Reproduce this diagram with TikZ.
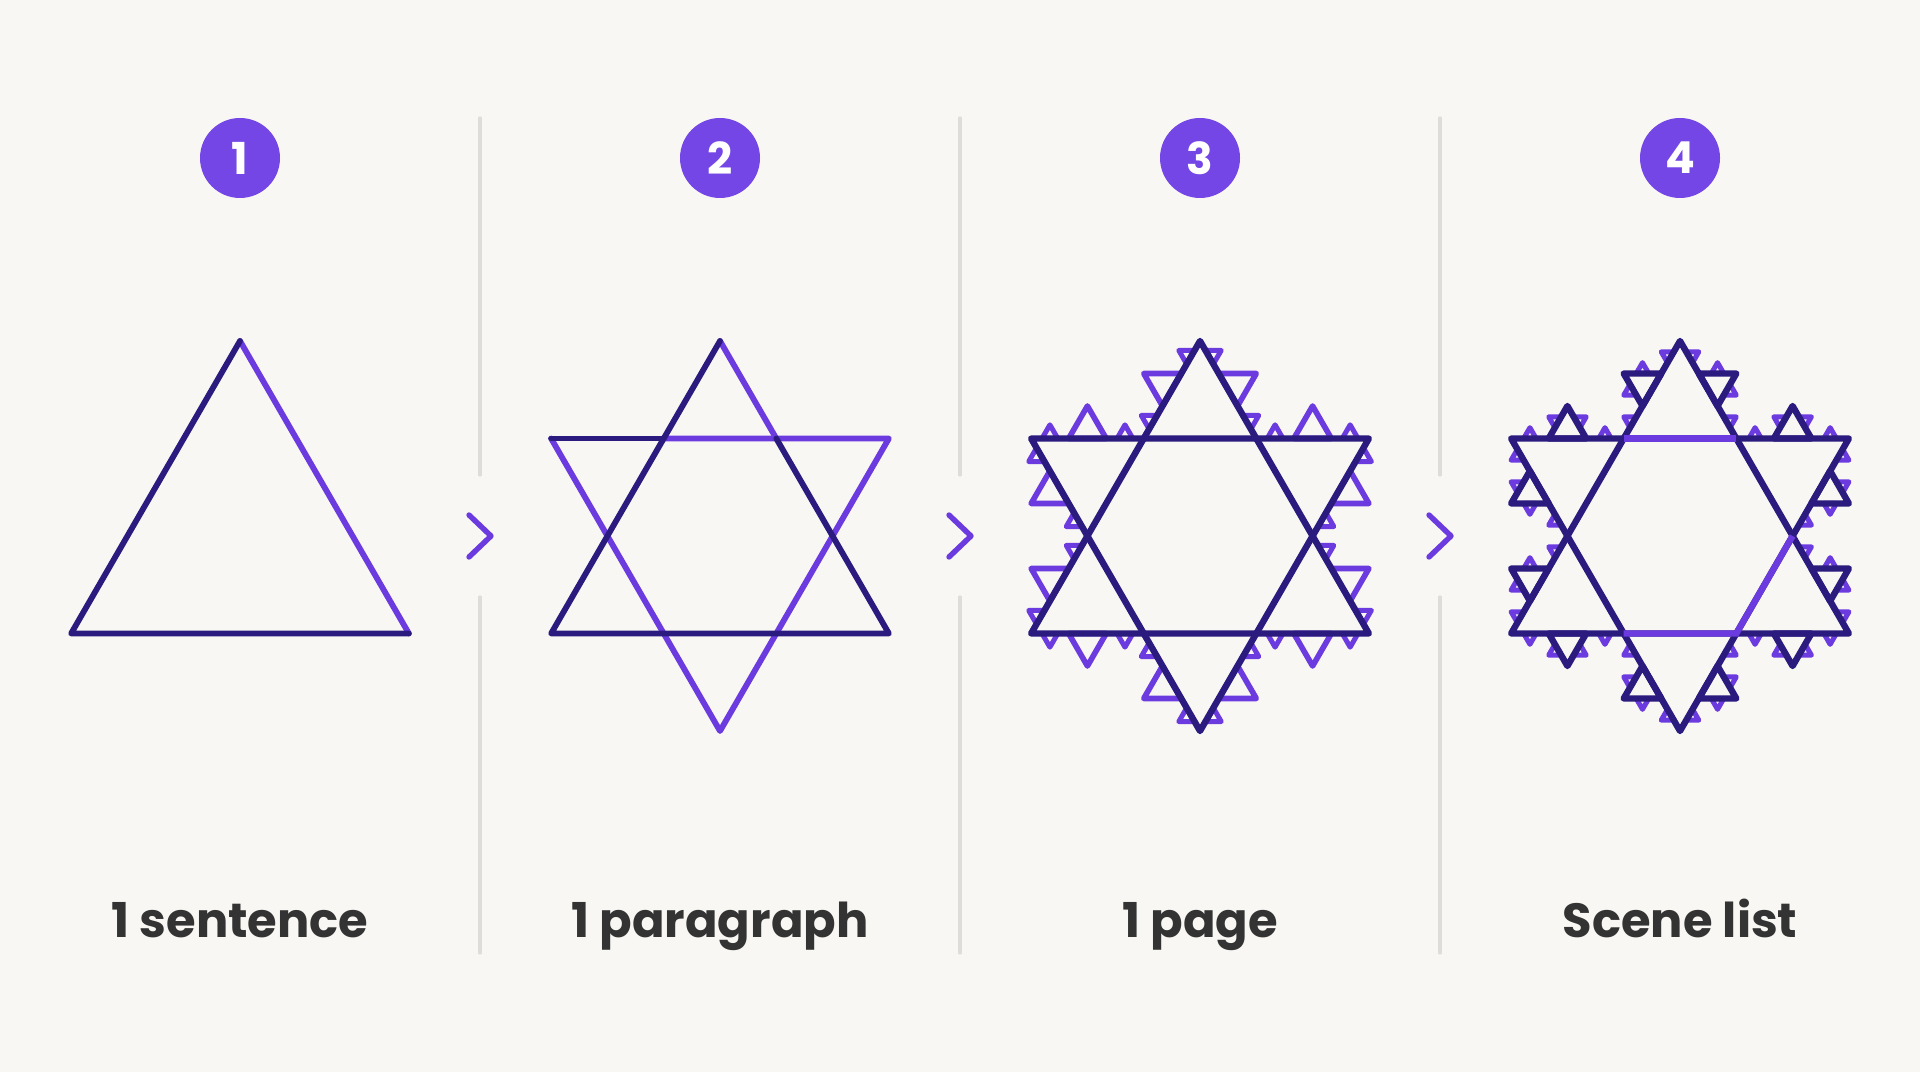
\documentclass[tikz,border=0pt]{standalone}
\usepackage{fontspec}
\setmainfont{Poppins}
\usetikzlibrary{calc}
\definecolor{bgc}{HTML}{F8F7F3}
\definecolor{navy}{HTML}{2B1B7E}
\definecolor{violet}{HTML}{6B3BE0}
\definecolor{badgec}{HTML}{7446E6}
\definecolor{divc}{HTML}{DEDDD9}
\definecolor{labc}{HTML}{333333}
\tikzset{
  mainline/.style={line width=2.9pt, line cap=round, line join=round},
  darkline/.style={mainline, draw=navy},
  liteline/.style={mainline, draw=violet},
  bigdark/.style={line width=3.2pt, draw=navy, line cap=round, line join=round},
  innerlite/.style={line width=3.2pt, draw=violet, line cap=butt},
  bumpthree/.style={line width=2.8pt, draw=violet, line cap=round, line join=round},
  bumpfour/.style={line width=2.5pt, draw=violet, line cap=round, line join=round},
  divider/.style={line width=1.6pt, draw=divc, line cap=round},
  chevron/.style={line width=2.7pt, draw=violet, line cap=round, line join=round},
  badgenode/.style={circle, fill=badgec, minimum size=40pt, inner sep=0pt, text=white,
    font=\bfseries\fontsize{22}{22}\selectfont},
  labelnode/.style={anchor=base, text=labc, font=\bfseries\fontsize{24}{24}\selectfont},
}
% bump triangle on segment (#1,#2)-(#3,#4): base from t=0.5-#6 to 0.5+#6, outward to the right
\newcommand\bumptri[6]{%
  \pgfmathsetmacro\bAx{#1+(0.5-#6)*(#3-#1)}%
  \pgfmathsetmacro\bAy{#2+(0.5-#6)*(#4-#2)}%
  \pgfmathsetmacro\bBx{#1+(0.5+#6)*(#3-#1)}%
  \pgfmathsetmacro\bBy{#2+(0.5+#6)*(#4-#2)}%
  \pgfmathsetmacro\bCx{\bAx+0.5*(\bBx-\bAx)+0.8660254*(\bBy-\bAy)}%
  \pgfmathsetmacro\bCy{\bAy-0.8660254*(\bBx-\bAx)+0.5*(\bBy-\bAy)}%
  \draw[#5] (\bAx,\bAy) -- (\bCx,\bCy) -- (\bBx,\bBy) -- cycle;
}
\newcommand\kochedge[5]{%
  \begingroup
  \pgfmathsetmacro\eAx{#1+(#3-#1)/3}%
  \pgfmathsetmacro\eAy{#2+(#4-#2)/3}%
  \pgfmathsetmacro\eBx{#1+2*(#3-#1)/3}%
  \pgfmathsetmacro\eBy{#2+2*(#4-#2)/3}%
  \pgfmathsetmacro\eCx{\eAx+0.5*(\eBx-\eAx)+0.8660254*(\eBy-\eAy)}%
  \pgfmathsetmacro\eCy{\eAy-0.8660254*(\eBx-\eAx)+0.5*(\eBy-\eAy)}%
  \ifnum#5=3
    \bumptri{#1}{#2}{\eAx}{\eAy}{bumpfour}{0.21}%
    \bumptri{\eBx}{\eBy}{#3}{#4}{bumpfour}{0.21}%
    \draw[bumpthree] (\eAx,\eAy) -- (\eCx,\eCy) -- (\eBx,\eBy) -- cycle;
  \else
    \bumptri{#1}{#2}{\eAx}{\eAy}{bumpfour}{0.1667}%
    \bumptri{\eAx}{\eAy}{\eCx}{\eCy}{bumpfour}{0.1667}%
    \bumptri{\eCx}{\eCy}{\eBx}{\eBy}{bumpfour}{0.1667}%
    \bumptri{\eBx}{\eBy}{#3}{#4}{bumpfour}{0.1667}%
    \draw[bigdark] (\eAx,\eAy) -- (\eCx,\eCy) -- (\eBx,\eBy) -- cycle;
  \fi
  \endgroup
}
\newcommand\kochring[1]{%
  \foreach \k in {0,...,5}{%
    \pgfmathsetmacro\th{90+60*\k}%
    \pgfmathsetmacro\pax{195*cos(\th)}%
    \pgfmathsetmacro\pay{195*sin(\th)}%
    \pgfmathsetmacro\qx{112.583*cos(\th+30)}%
    \pgfmathsetmacro\qy{112.583*sin(\th+30)}%
    \pgfmathsetmacro\pbx{195*cos(\th+60)}%
    \pgfmathsetmacro\pby{195*sin(\th+60)}%
    \kochedge{\pax}{\pay}{\qx}{\qy}{#1}%
    \kochedge{\qx}{\qy}{\pbx}{\pby}{#1}%
  }%
}
\begin{document}
\begin{tikzpicture}[x=0.5pt,y=0.5pt]
  \fill[bgc] (0,0) rectangle (1920,1072);
  \useasboundingbox (0,0) rectangle (1920,1072);
  \def\R{195}
  \def\r{112.583}
  % panel centres
  \coordinate (c1) at (240,536);
  \coordinate (c2) at (720,536);
  \coordinate (c3) at (1200,536);
  \coordinate (c4) at (1680,536);
  % dividers and chevrons
  \foreach \dx/\nm in {480/a,960/b,1440/c}{
    \coordinate (dt\nm) at (\dx,954);
    \coordinate (dm\nm) at (\dx,597);
    \coordinate (dn\nm) at (\dx,475);
    \coordinate (db\nm) at (\dx,119);
    \draw[divider] (dt\nm) -- (dm\nm);
    \draw[divider] (dn\nm) -- (db\nm);
    \coordinate (ch1\nm) at (\dx-11,557);
    \coordinate (ch2\nm) at (\dx+11,536);
    \coordinate (ch3\nm) at (\dx-11,515);
    \draw[chevron] (ch1\nm) -- (ch2\nm) -- (ch3\nm);
  }
  % panel 1: triangle
  \begin{scope}[shift={(c1)}]
    \draw[liteline] (90:\R) -- (330:\R);
    \draw[darkline] (330:\R) -- (210:\R) -- (90:\R);
  \end{scope}
  % panel 2: hexagram
  \begin{scope}[shift={(c2)}]
    \draw[liteline] (150:\R) -- (270:\R) -- (30:\R) -- (120:\r);
    \draw[liteline] (90:\R) -- (60:\r);
    \draw[darkline] (150:\R) -- (120:\r);
    \draw[darkline] (60:\r) -- (330:\R) -- (210:\R) -- (90:\R);
  \end{scope}
  % panel 3
  \begin{scope}[shift={(c3)}]
    \kochring{3}
    \draw[bigdark] (90:\R) -- (210:\R) -- (330:\R) -- cycle;
    \draw[bigdark] (30:\R) -- (150:\R) -- (270:\R) -- cycle;
  \end{scope}
  % panel 4
  \begin{scope}[shift={(c4)}]
    \kochring{4}
    \draw[bigdark] (90:\R) -- (210:\R) -- (330:\R) -- cycle;
    \draw[bigdark] (30:\R) -- (150:\R) -- (270:\R) -- cycle;
    \draw[innerlite] (60:\r) -- (120:\r);
    \draw[innerlite] (240:\r) -- (300:\r) -- (0:\r);
  \end{scope}
  % badges
  \node[badgenode] (b1) at (240,914) {1};
  \node[badgenode] (b2) at (720,914) {2};
  \node[badgenode] (b3) at (1200,914) {3};
  \node[badgenode] (b4) at (1680,914) {4};
  % labels
  \node[labelnode] (l1) at (240,135) {1 sentence};
  \node[labelnode] (l2) at (720,135) {1 paragraph};
  \node[labelnode] (l3) at (1200,135) {1 page};
  \node[labelnode] (l4) at (1680,135) {Scene list};
\end{tikzpicture}
\end{document}
